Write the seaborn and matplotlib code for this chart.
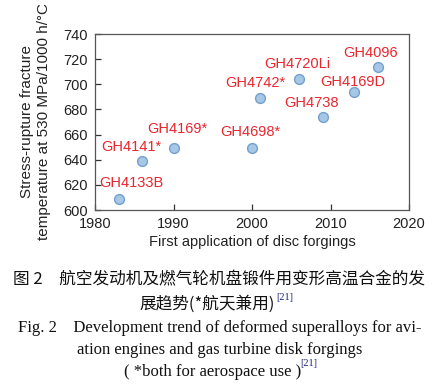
import matplotlib
matplotlib.use('Agg')
import matplotlib.pyplot as plt
import seaborn as sns
import pandas as pd

# Data
alloys = ['GH4133B', 'GH4141*', 'GH4169*', 'GH4698*', 'GH4742*',
          'GH4720Li', 'GH4738', 'GH4169D', 'GH4096']
years = [1983, 1986, 1990, 2000, 2001, 2006, 2009, 2013, 2016]
temps = [609, 639, 649, 649, 689, 704, 674, 694, 714]

x_ticks = [1980, 1990, 2000, 2010, 2020]
y_ticks = [600, 620, 640, 660, 680, 700, 720, 740]

# label offsets from each point (points)
label_offsets = [(9, 11), (-8, 10), (3, 14), (-1, 12), (-3, 11),
                 (-1, 11), (-8, 10), (-1, 7), (-5, 10)]

df = pd.DataFrame({'alloy': alloys, 'year': years, 'temp': temps})

sns.set_style('white')
plt.rcParams['font.family'] = ['Liberation Sans', 'DejaVu Sans']

W, H = 439, 390
fig = plt.figure(figsize=(W / 100, H / 100), dpi=100)
ax = fig.add_axes([95 / W, 1 - 210 / H, 314 / W, 176 / H])

sns.scatterplot(data=df, x='year', y='temp', ax=ax, s=50,
                color='#a7c7e7', edgecolor='#73a0cc', linewidth=1, zorder=3)

red = '#e8262e'
for name, x, y, (dx, dy) in zip(df['alloy'], df['year'], df['temp'], label_offsets):
    ax.annotate(name, (x, y), xytext=(dx, dy), textcoords='offset points',
                ha='center', va='center', color=red, fontsize=10.5)

ax.set_xlim(1980, 2020)
ax.set_ylim(600, 740)
ax.set_xticks(x_ticks)
ax.set_yticks(y_ticks)
ax.tick_params(direction='in', length=4, width=0.9, labelsize=10.5,
               colors='#333333', labelcolor='#222222', pad=5,
               bottom=True, left=True)
for s in ax.spines.values():
    s.set_color('#555555')
    s.set_linewidth(0.9)

ax.set_xlabel('First application of disc forgings', fontsize=10.5,
              color='#222222', labelpad=3)
ax.set_ylabel('Stress-rupture fracture\ntemperature at 530 MPa/1000 h/°C',
              fontsize=11, color='#222222', linespacing=1.3, labelpad=9)

# caption
cjk = ['Noto Sans CJK SC', 'DejaVu Sans']
serif = ['Liberation Serif', 'DejaVu Serif']
ink = '#111111'
blue = '#1a237e'
fig.text(0.5, 1 - 280 / H, '图 2　航空发动机及燃气轮机盘锻件用变形高温合金的发',
         ha='center', va='center', fontsize=12, family=cjk, color=ink)
fig.text(140 / W, 1 - 304 / H, '展趋势(*航天兼用)',
         ha='left', va='center', fontsize=12, family=cjk, color=ink)
fig.text(276 / W, 1 - 298 / H, '[21]', ha='left', va='center',
         fontsize=7.5, family=serif, color=blue)
fig.text(0.5, 1 - 328 / H, 'Fig. 2    Development trend of deformed superalloys for avi-',
         ha='center', va='center', fontsize=12, family=serif, color=ink)
fig.text(0.5, 1 - 350 / H, 'ation engines and gas turbine disk forgings',
         ha='center', va='center', fontsize=12, family=serif, color=ink)
fig.text(124 / W, 1 - 372 / H, '( *both for aerospace use )',
         ha='left', va='center', fontsize=12, family=serif, color=ink)
fig.text(300 / W, 1 - 364 / H, '[21]', ha='left', va='center',
         fontsize=7.5, family=serif, color=blue)

fig.savefig('out.png', dpi=100)
